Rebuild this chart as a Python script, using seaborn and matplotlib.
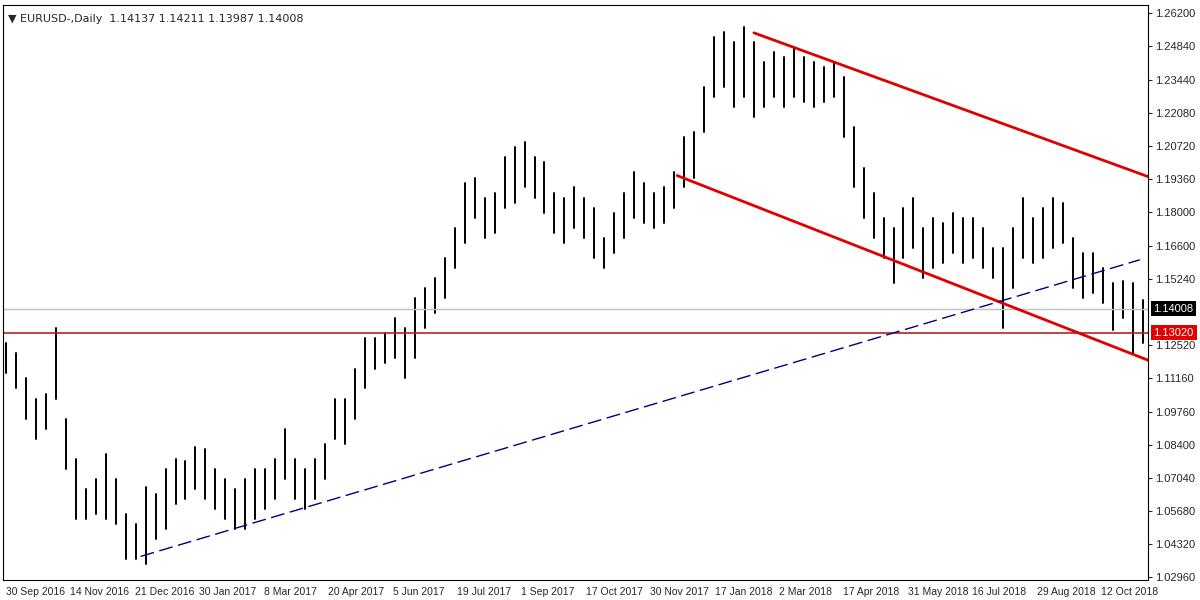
import numpy as np
import pandas as pd
import seaborn as sns
import matplotlib.pyplot as plt

# weekly bars (high / low)
highs = [1.1258, 1.1217, 1.1113, 1.1030, 1.1051, 1.1320, 1.0947, 1.0782, 1.0658, 1.0699,
         1.0803, 1.0699, 1.0554, 1.0513, 1.0666, 1.0637, 1.0740, 1.0782, 1.0774, 1.0832,
         1.0823, 1.0740, 1.0699, 1.0658, 1.0699, 1.0740, 1.0740, 1.0782, 1.0906, 1.0782,
         1.0740, 1.0782, 1.0844, 1.1030, 1.1030, 1.1154, 1.1279, 1.1279, 1.1299, 1.1361,
         1.1320, 1.1444, 1.1486, 1.1527, 1.1610, 1.1734, 1.1920, 1.1941, 1.1858, 1.1879,
         1.2024, 1.2065, 1.2086, 1.2024, 1.2003, 1.1879, 1.1858, 1.1900, 1.1858, 1.1817,
         1.1693, 1.1796, 1.1879, 1.1962, 1.1920, 1.1879, 1.1900, 1.1962, 1.2107, 1.2127,
         1.2314, 1.2521, 1.2541, 1.2500, 1.2562, 1.2500, 1.2417, 1.2459, 1.2438, 1.2479,
         1.2438, 1.2417, 1.2396, 1.2417, 1.2355, 1.2148, 1.1982, 1.1879, 1.1776, 1.1734,
         1.1817, 1.1858, 1.1734, 1.1776, 1.1755, 1.1796, 1.1776, 1.1776, 1.1734, 1.1651,
         1.1651, 1.1734, 1.1858, 1.1776, 1.1817, 1.1858, 1.1838, 1.1693, 1.1631, 1.1631,
         1.1568, 1.1506, 1.1515, 1.1506, 1.1436]
lows = [1.1134, 1.1072, 1.0947, 1.0865, 1.0906, 1.1030, 1.0740, 1.0534, 1.0534, 1.0554,
        1.0534, 1.0513, 1.0368, 1.0368, 1.0347, 1.0451, 1.0492, 1.0596, 1.0616, 1.0658,
        1.0616, 1.0575, 1.0534, 1.0492, 1.0492, 1.0534, 1.0575, 1.0616, 1.0699, 1.0616,
        1.0575, 1.0616, 1.0699, 1.0865, 1.0844, 1.0947, 1.1072, 1.1154, 1.1175, 1.1196,
        1.1113, 1.1196, 1.1320, 1.1382, 1.1444, 1.1568, 1.1672, 1.1776, 1.1693, 1.1713,
        1.1817, 1.1838, 1.1900, 1.1858, 1.1796, 1.1713, 1.1672, 1.1734, 1.1693, 1.1610,
        1.1568, 1.1631, 1.1693, 1.1776, 1.1755, 1.1734, 1.1755, 1.1817, 1.1900, 1.1941,
        1.2127, 1.2272, 1.2314, 1.2231, 1.2272, 1.2189, 1.2231, 1.2272, 1.2231, 1.2272,
        1.2252, 1.2231, 1.2252, 1.2272, 1.2107, 1.1900, 1.1776, 1.1693, 1.1610, 1.1506,
        1.1610, 1.1651, 1.1527, 1.1568, 1.1589, 1.1631, 1.1589, 1.1610, 1.1568, 1.1527,
        1.1320, 1.1486, 1.1610, 1.1589, 1.1610, 1.1651, 1.1672, 1.1486, 1.1444, 1.1465,
        1.1424, 1.1312, 1.1361, 1.1217, 1.1258]

date_labels = ['30 Sep 2016', '14 Nov 2016', '21 Dec 2016', '30 Jan 2017', '8 Mar 2017',
               '20 Apr 2017', '5 Jun 2017', '19 Jul 2017', '1 Sep 2017', '17 Oct 2017',
               '30 Nov 2017', '17 Jan 2018', '2 Mar 2018', '17 Apr 2018', '31 May 2018',
               '16 Jul 2018', '29 Aug 2018', '12 Oct 2018']
price_ticks = [1.26200, 1.24840, 1.23440, 1.22080, 1.20720, 1.19360, 1.18000, 1.16600,
               1.15240, 1.12520, 1.11160, 1.09760, 1.08400, 1.07040, 1.05680, 1.04320, 1.02960]

# trend lines (bar index, price)
upper_ch = ([375, 598.5], [1.2537, 1.1867])
lower_ch = ([336.5, 598.5], [1.1949, 1.1105])
support = ([67.5, 568.5], [1.0380, 1.1602])
last_price = 1.14008
level = 1.13020

bar_step = 5  # trading days per drawn bar
n = len(highs)
df = pd.DataFrame({
    'bar': np.repeat(np.arange(n), 2),
    'x': np.repeat(np.arange(n) * bar_step, 2),
    'price': np.ravel(np.column_stack([lows, highs])),
})

sns.set_style('white')
plt.rcParams['font.family'] = ['Liberation Sans', 'DejaVu Sans']
fig = plt.figure(figsize=(12, 6), dpi=100)
ax = fig.add_axes([0.0025, 0.033, 0.954, 0.958])

sns.lineplot(data=df, x='x', y='price', units='bar', estimator=None,
             color='black', lw=1.4, ax=ax, legend=False)

ax.axhline(last_price, color='#c0c0c0', lw=1)
ax.axhline(level, color='#b22222', lw=1.2)
sns.lineplot(x=upper_ch[0], y=upper_ch[1], color='#e00000', lw=2, ax=ax)
sns.lineplot(x=lower_ch[0], y=lower_ch[1], color='#e00000', lw=2, ax=ax)
ax.plot(support[0], support[1], color='#000080', lw=1, dashes=(10, 4))

ax.set_xlim(-1.5, 572.5)
ax.set_ylim(1.0282, 1.2650)
ax.yaxis.tick_right()
ax.set_yticks(price_ticks)
ax.set_yticklabels([f'{p:.5f}' for p in price_ticks], fontsize=8)
ax.set_xticks(np.arange(len(date_labels)) * 32.3)
ax.set_xticklabels(date_labels, fontsize=7.5, ha='left')
ax.tick_params(length=3, direction='out', pad=2)
ax.set_xlabel('')
ax.set_ylabel('')
for s in ax.spines.values():
    s.set_color('black')

bb = dict(boxstyle='square,pad=0.25', lw=0)
ax.text(1.005, last_price, '1.14008', transform=ax.get_yaxis_transform(), color='white',
        fontsize=8, va='center', bbox=dict(bb, fc='black'))
ax.text(1.005, level, '1.13020', transform=ax.get_yaxis_transform(), color='white',
        fontsize=8, va='center', bbox=dict(bb, fc='#e00000'))
ax.text(0.004, 0.985, '\u25bc EURUSD-,Daily  1.14137 1.14211 1.13987 1.14008',
        transform=ax.transAxes, fontsize=8, va='top', family=['DejaVu Sans'])

fig.savefig('out.png', dpi=100)
